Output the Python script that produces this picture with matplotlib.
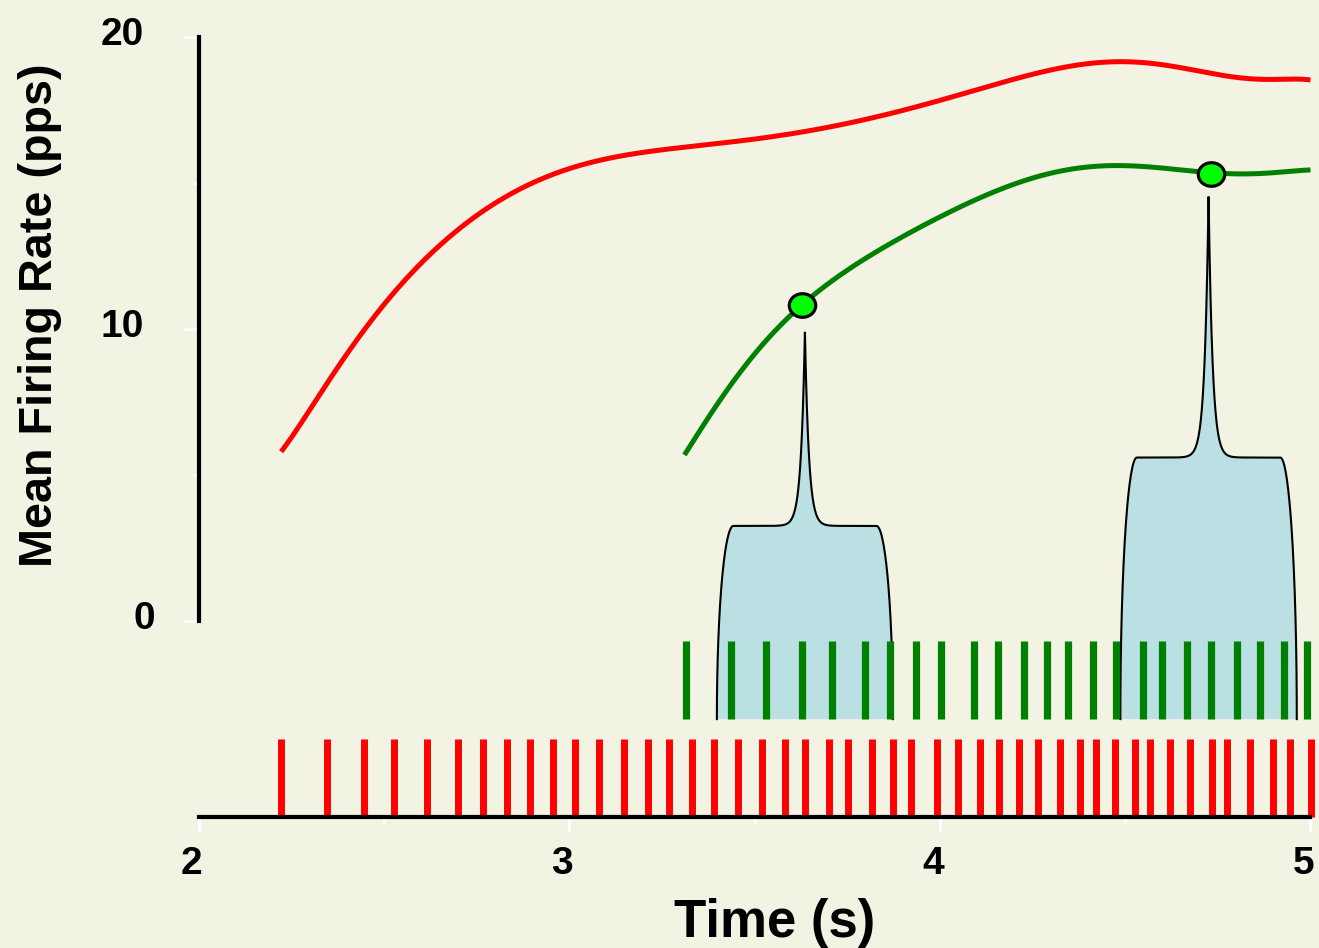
import numpy as np
import matplotlib
matplotlib.use("Agg")
import matplotlib.pyplot as plt
from matplotlib.path import Path
from matplotlib.transforms import ScaledTranslation, Affine2D

# ---------------------------------------------------------------- data
# discharge times (s) of the two motor units
red_spikes = [2.223, 2.347, 2.446, 2.527, 2.616, 2.700, 2.767, 2.832, 2.894,
              2.956, 3.016, 3.080, 3.148, 3.213, 3.269, 3.331, 3.391, 3.455,
              3.520, 3.582, 3.636, 3.701, 3.752, 3.817, 3.873, 3.922, 3.992,
              4.049, 4.108, 4.159, 4.213, 4.265, 4.324, 4.378, 4.421, 4.472,
              4.526, 4.567, 4.621, 4.675, 4.734, 4.774, 4.837, 4.899, 4.944,
              5.001]
green_spikes = [3.315, 3.436, 3.531, 3.628, 3.709, 3.798, 3.865, 3.936, 4.003,
                4.092, 4.157, 4.227, 4.289, 4.346, 4.413, 4.475, 4.548, 4.599,
                4.667, 4.731, 4.802, 4.864, 4.928, 4.990]

# smoothed mean firing rates (pps)
red_rate_t = [2.223, 2.283, 2.373, 2.463, 2.552, 2.643, 2.732, 2.822, 2.912,
              3.002, 3.092, 3.182, 3.272, 3.399, 3.519, 3.631, 3.739, 3.905,
              4.070, 4.235, 4.345, 4.488, 4.620, 4.730, 4.840, 5.000]
red_rate = [5.81, 6.90, 8.67, 10.21, 11.63, 12.77, 13.74, 14.48, 15.05,
            15.49, 15.82, 16.04, 16.17, 16.34, 16.54, 16.75, 17.02, 17.51,
            18.08, 18.67, 18.99, 19.16, 19.01, 18.76, 18.57, 18.53]
green_rate_t = [3.311, 3.440, 3.551, 3.630, 3.719, 3.831, 3.943, 4.055, 4.167,
                4.278, 4.390, 4.536, 4.670, 4.731, 4.838, 5.000]
green_rate = [5.70, 8.15, 9.92, 10.83, 11.75, 12.66, 13.46, 14.20, 14.83,
              15.25, 15.51, 15.62, 15.45, 15.30, 15.34, 15.45]

# highlighted discharges of the green unit
marked_t = [3.628, 4.731]
marked_rate = [10.83, 15.30]

# twitch-force profiles (centre, half width, plateau, peak)
twitch_center = [3.636, 4.725]
twitch_halfwidth = [0.2375, 0.238]
twitch_plateau = [3.27, 5.61]
twitch_peak = [9.91, 14.54]

xticks = [2, 3, 4, 5]
xtick_labels = ["2", "3", "4", "5"]
yticks = [0, 10, 20]
ytick_labels = ["0", "10", "20"]

# ---------------------------------------------------------------- style
BG = "#f2f3e2"
RED = "#ff0000"
GREEN = "#008000"
DOT = "#00ff00"
BLUE = "#bbe0e3"
FONT = "Liberation Sans"

plt.rcParams["font.family"] = [FONT, "DejaVu Sans"]
plt.rcParams["font.weight"] = "bold"


def smooth_rate(t, r, deg):
    """Smooth least-squares polynomial through the rate samples."""
    t = np.asarray(t, float)
    r = np.asarray(r, float)
    mid, half = (t[0] + t[-1]) / 2, (t[-1] - t[0]) / 2
    coef = np.polynomial.legendre.legfit((t - mid) / half, r, deg)
    xs = np.linspace(t[0], t[-1], 600)
    return xs, np.polynomial.legendre.legval((xs - mid) / half, coef)


def twitch_outline(c, hw, plateau, peak, base, shoulder=0.0445, tau=0.0108):
    """Rounded plateau with a sharp exponential peak at its centre."""
    phi = np.linspace(0, np.pi / 2, 60)
    lx = (c - hw) + shoulder * (1 - np.cos(phi))
    ly = base + (plateau - base) * np.sin(phi)
    xs = np.linspace(c - hw + shoulder, c + hw - shoulder, 1601)
    xs = np.union1d(xs, [c])
    ys = plateau + (peak - plateau) * np.exp(-np.abs(xs - c) / tau)
    rx = (c + hw) - shoulder * (1 - np.cos(phi[::-1]))
    ry = base + (plateau - base) * np.sin(phi[::-1])
    return np.concatenate([lx, xs, rx]), np.concatenate([ly, ys, ry])


W, H = 1319, 948
fig = plt.figure(figsize=(W / 100, H / 100), dpi=100, facecolor=BG)
ax = fig.add_axes([198.5 / W, 131.3 / H, 1112 / W, 779.7 / H])
ax.set_facecolor(BG)
ax.set_xlim(2, 5)
ax.set_ylim(-6.68, 20)

# raster rows
GREEN_ROW = (-3.34, -0.67)
RED_ROW = (-6.68, -4.02)

# twitch profiles (behind the green raster)
for c, hw, pl, pk in zip(twitch_center, twitch_halfwidth, twitch_plateau, twitch_peak):
    tx, ty = twitch_outline(c, hw, pl, pk, GREEN_ROW[0])
    ax.fill(tx, ty, color=BLUE, lw=0, zorder=1)
    ax.plot(tx, ty, color="black", lw=1.5, zorder=2, solid_joinstyle="miter")

ax.vlines(green_spikes, *GREEN_ROW, colors=GREEN, lw=5.2, zorder=3, clip_on=False)
ax.vlines(red_spikes, *RED_ROW, colors=RED, lw=5.0, zorder=3, clip_on=False)

# firing-rate curves
rx, ry = smooth_rate(red_rate_t, red_rate, 11)
ax.plot(rx, ry, color=RED, lw=3.6, zorder=4, solid_capstyle="butt")
gx, gy = smooth_rate(green_rate_t, green_rate, 7)
ax.plot(gx, gy, color=GREEN, lw=3.6, zorder=4, solid_capstyle="butt")

# slightly wide oval markers
oval = Path.unit_circle().transformed(Affine2D().scale(1.12, 1.0))
ax.plot(marked_t, marked_rate, ls="none", marker=oval, ms=19,
        mfc=DOT, mec="black", mew=2.3, zorder=5, clip_on=False)

# axes frame
for side in ("top", "right"):
    ax.spines[side].set_visible(False)
for side in ("left", "bottom"):
    ax.spines[side].set_linewidth(3)
    ax.spines[side].set_color("black")
ax.spines["left"].set_bounds(0, 20)
ax.spines["bottom"].set_zorder(3.5)

ax.set_xticks(xticks)
ax.set_xticks([2.5, 3.5, 4.5], minor=True)
ax.set_yticks(yticks)
ax.set_yticks([5, 15], minor=True)
ax.tick_params(which="major", direction="out", color="white", length=11,
               width=2.2, labelleft=False, labelbottom=False)
ax.tick_params(which="minor", direction="out", color="white", length=4.3,
               width=2.2)


def px_offset(dx, dy):
    return ScaledTranslation(dx / 100, dy / 100, fig.dpi_scale_trans)


# tick labels
for v, lab in zip(xticks, xtick_labels):
    ax.text(v, 0, lab, transform=ax.get_xaxis_transform() + px_offset(-7, -57.3),
            ha="center", va="baseline", fontsize=28, fontweight="bold",
            clip_on=False)
for v, lab in zip(yticks, ytick_labels):
    dx = -43.5 if lab == "0" else -54.5
    ax.text(0, v, lab, transform=ax.get_yaxis_transform() + px_offset(dx, -8),
            ha="right", va="baseline", fontsize=28, fontweight="bold",
            clip_on=False)

# axis titles
fig.text(775 / W, (H - 936.7) / H, "Time (s)", ha="center", va="baseline",
         fontsize=38, fontweight="bold")
fig.text(51.7 / W, (H - 315) / H, "Mean Firing Rate (pps)", rotation=90,
         rotation_mode="anchor", ha="center", va="baseline",
         fontsize=33.7, fontweight="bold")

fig.savefig("out.png", dpi=100, facecolor=BG)
